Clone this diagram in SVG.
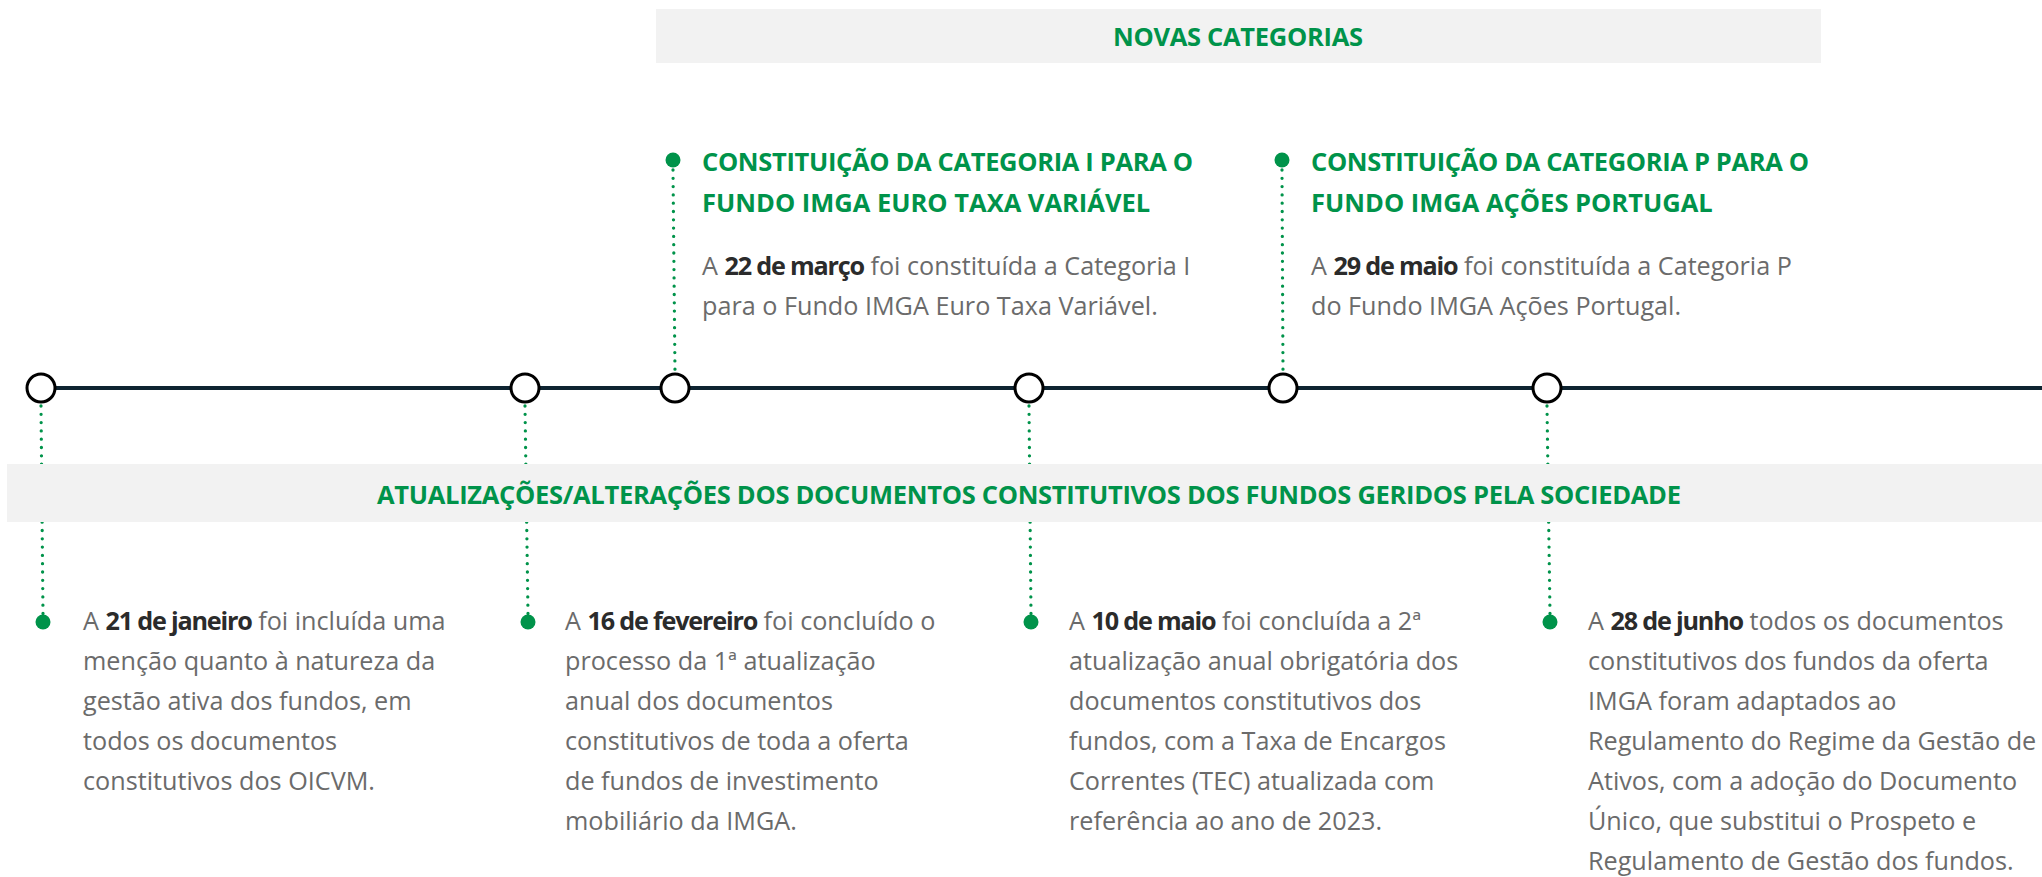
<svg xmlns="http://www.w3.org/2000/svg" width="2042" height="877" viewBox="0 0 2042 877">
  <style>
    .band { fill: #f2f2f2; }
    .hdr { font-family: "Open Sans", "Liberation Sans", sans-serif; font-weight: 700; font-size: 25.5px; fill: #00934a; }
    .body { font-family: "Open Sans", "Liberation Sans", sans-serif; font-size: 25.2px; fill: #6b6b6b; }
    .body .b { font-weight: 700; fill: #2b2b2b; letter-spacing: -1.2px; }
    .tl { stroke: #0e2431; stroke-width: 4; fill: none; }
    .node { fill: #ffffff; stroke: #000000; stroke-width: 3; }
    .dot { fill: #00934a; }
    .dots { stroke: #00934a; stroke-width: 3.3; stroke-linecap: round; stroke-dasharray: 0 8.3; fill: none; }
  </style>

  <g id="connectors">
    <line class="tl" x1="41" y1="388" x2="2042" y2="388"/>
    <path class="dots" d="M673 170 L675 372"/>
    <path class="dots" d="M1282 170 L1283 372"/>
    <path class="dots" d="M41 406 L43 614"/>
    <path class="dots" d="M525 406 L528 614"/>
    <path class="dots" d="M1029 406 L1031 614"/>
    <path class="dots" d="M1547 406 L1550 614"/>
  </g>

  <g id="header-novas">
    <rect class="band" x="656" y="9" width="1165" height="54"/>
    <text class="hdr" x="1113" y="46" textLength="250">NOVAS CATEGORIAS</text>
  </g>

  <g id="header-atualizacoes">
    <rect class="band" x="7" y="464" width="2035" height="58"/>
    <text class="hdr" x="377" y="504" textLength="1304">ATUALIZAÇÕES/ALTERAÇÕES DOS DOCUMENTOS CONSTITUTIVOS DOS FUNDOS GERIDOS PELA SOCIEDADE</text>
  </g>

  <g id="node-jan">
    <circle class="node" cx="41" cy="388" r="14"/>
    <circle class="dot" cx="43" cy="622" r="7.5"/>
    <text class="body" x="83" y="630"><tspan>A </tspan><tspan class="b">21 de janeiro</tspan><tspan> foi incluída uma</tspan></text>
    <text class="body" x="83" y="670">menção quanto à natureza da</text>
    <text class="body" x="83" y="710">gestão ativa dos fundos, em</text>
    <text class="body" x="83" y="750">todos os documentos</text>
    <text class="body" x="83" y="790">constitutivos dos OICVM.</text>
  </g>

  <g id="node-fev">
    <circle class="node" cx="525" cy="388" r="14"/>
    <circle class="dot" cx="528" cy="622" r="7.5"/>
    <text class="body" x="565" y="630"><tspan>A </tspan><tspan class="b">16 de fevereiro</tspan><tspan> foi concluído o</tspan></text>
    <text class="body" x="565" y="670">processo da 1ª atualização</text>
    <text class="body" x="565" y="710">anual dos documentos</text>
    <text class="body" x="565" y="750">constitutivos de toda a oferta</text>
    <text class="body" x="565" y="790">de fundos de investimento</text>
    <text class="body" x="565" y="830">mobiliário da IMGA.</text>
  </g>

  <g id="node-mar">
    <circle class="node" cx="675" cy="388" r="14"/>
    <circle class="dot" cx="673" cy="160" r="7.5"/>
    <text class="hdr" x="702" y="171" textLength="491">CONSTITUIÇÃO DA CATEGORIA I PARA O</text>
    <text class="hdr" x="702" y="212">FUNDO IMGA EURO TAXA VARIÁVEL</text>
    <text class="body" x="702" y="275"><tspan>A </tspan><tspan class="b">22 de março</tspan><tspan> foi constituída a Categoria I</tspan></text>
    <text class="body" x="702" y="315">para o Fundo IMGA Euro Taxa Variável.</text>
  </g>

  <g id="node-mai10">
    <circle class="node" cx="1029" cy="388" r="14"/>
    <circle class="dot" cx="1031" cy="622" r="7.5"/>
    <text class="body" x="1069" y="630"><tspan>A </tspan><tspan class="b">10 de maio</tspan><tspan> foi concluída a 2ª</tspan></text>
    <text class="body" x="1069" y="670">atualização anual obrigatória dos</text>
    <text class="body" x="1069" y="710">documentos constitutivos dos</text>
    <text class="body" x="1069" y="750">fundos, com a Taxa de Encargos</text>
    <text class="body" x="1069" y="790">Correntes (TEC) atualizada com</text>
    <text class="body" x="1069" y="830">referência ao ano de 2023.</text>
  </g>

  <g id="node-mai29">
    <circle class="node" cx="1283" cy="388" r="14"/>
    <circle class="dot" cx="1282" cy="160" r="7.5"/>
    <text class="hdr" x="1311" y="171" textLength="498">CONSTITUIÇÃO DA CATEGORIA P PARA O</text>
    <text class="hdr" x="1311" y="212">FUNDO IMGA AÇÕES PORTUGAL</text>
    <text class="body" x="1311" y="275"><tspan>A </tspan><tspan class="b">29 de maio</tspan><tspan> foi constituída a Categoria P</tspan></text>
    <text class="body" x="1311" y="315">do Fundo IMGA Ações Portugal.</text>
  </g>

  <g id="node-jun">
    <circle class="node" cx="1547" cy="388" r="14"/>
    <circle class="dot" cx="1550" cy="622" r="7.5"/>
    <text class="body" x="1588" y="630"><tspan>A </tspan><tspan class="b">28 de junho</tspan><tspan> todos os documentos</tspan></text>
    <text class="body" x="1588" y="670">constitutivos dos fundos da oferta</text>
    <text class="body" x="1588" y="710">IMGA foram adaptados ao</text>
    <text class="body" x="1588" y="750">Regulamento do Regime da Gestão de</text>
    <text class="body" x="1588" y="790">Ativos, com a adoção do Documento</text>
    <text class="body" x="1588" y="830">Único, que substitui o Prospeto e</text>
    <text class="body" x="1588" y="870">Regulamento de Gestão dos fundos.</text>
  </g>
</svg>
